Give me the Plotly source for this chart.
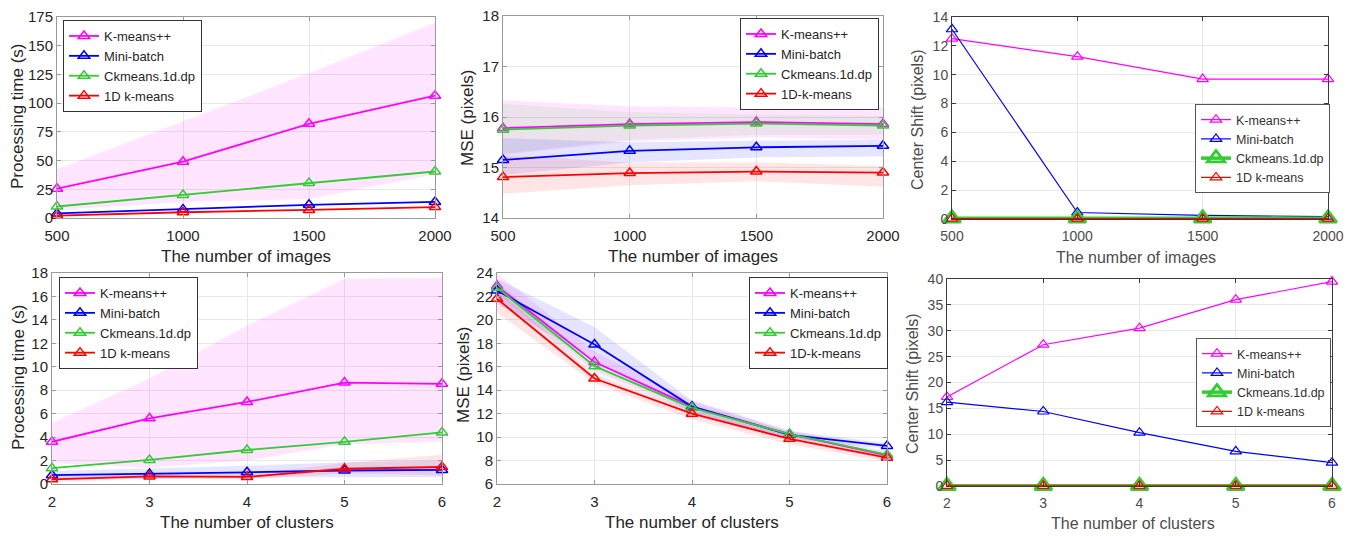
import plotly.graph_objects as go

# page body adds an 8px margin; the figure is sized so it ends at the window edge
OX, OY = 8, 8
W, H = 1357 - OX, 536 - OY

# ---------------- data ----------------
images = [500, 1000, 1500, 2000]
clusters = [2, 3, 4, 5, 6]
names_a = ["K-means++", "Mini-batch", "Ckmeans.1d.dp", "1D k-means"]
names_b = ["K-means++", "Mini-batch", "Ckmeans.1d.dp", "1D-k-means"]
img_ticks = [500, 1000, 1500, 2000]
clu_ticks = [2, 3, 4, 5, 6]

# (1) processing time vs number of images
t_img_kmpp = [25.5, 49, 82, 106.5]
t_img_kmpp_hi = [42.5, 84, 126, 170]
t_img_kmpp_lo = [7, 14, 16.5, 38]
t_img_mini = [4, 7.5, 11.5, 14]
t_img_ck = [10, 20, 30.5, 40.5]
t_img_1d = [2, 5, 7, 9.5]

# (2) MSE vs number of images
m_img_kmpp = [15.78, 15.86, 15.9, 15.86]
m_img_kmpp_hi = [16.33, 16.21, 16.19, 16.19]
m_img_kmpp_lo = [15.25, 15.52, 15.6, 15.55]
m_img_mini = [15.15, 15.33, 15.4, 15.43]
m_img_mini_hi = [15.58, 15.5, 15.53, 15.55]
m_img_mini_lo = [14.85, 15.1, 15.2, 15.22]
m_img_ck = [15.75, 15.83, 15.87, 15.83]
m_img_ck_hi = [16.26, 16.1, 16.05, 16.02]
m_img_ck_lo = [15.27, 15.55, 15.65, 15.65]
m_img_1d = [14.81, 14.89, 14.92, 14.9]
m_img_1d_hi = [15.24, 15.1, 15.1, 15.03]
m_img_1d_lo = [14.48, 14.65, 14.73, 14.62]

# (3) center shift vs number of images
c_img_kmpp = [12.5, 11.25, 9.7, 9.7]
c_img_mini = [13.15, 0.45, 0.25, 0.17]
c_img_ck = [0.05, 0.05, 0.05, 0.05]
c_img_1d = [0.03, 0.03, 0.03, 0.03]

# (4) processing time vs number of clusters
t_clu_kmpp = [3.6, 5.6, 7.0, 8.65, 8.55]
t_clu_kmpp_hi = [5.2, 9.0, 13.5, 17.5, 17.6]
t_clu_kmpp_lo = [1.8, 1.4, 2.0, 3.4, 3.6]
t_clu_mini = [0.75, 0.85, 1.0, 1.15, 1.2]
t_clu_mini_hi = [1.1, 1.3, 1.55, 1.85, 2.0]
t_clu_mini_lo = [0.45, 0.5, 0.55, 0.6, 0.6]
t_clu_ck = [1.35, 2.05, 2.9, 3.6, 4.4]
t_clu_1d = [0.4, 0.65, 0.6, 1.3, 1.45]
t_clu_1d_hi = [0.6, 0.85, 0.8, 1.8, 2.5]
t_clu_1d_lo = [0.2, 0.45, 0.4, 0.9, 0.75]

# (5) MSE vs number of clusters
m_clu_kmpp = [22.9, 16.4, 12.6, 10.25, 8.45]
m_clu_kmpp_hi = [24.0, 17.3, 13.1, 10.6, 8.8]
m_clu_kmpp_lo = [21.9, 15.6, 12.1, 9.8, 8.1]
m_clu_mini = [22.5, 17.9, 12.6, 10.2, 9.25]
m_clu_mini_hi = [23.5, 19.4, 13.1, 10.5, 9.5]
m_clu_mini_lo = [21.4, 16.5, 12.1, 9.9, 9.0]
m_clu_ck = [22.75, 16.05, 12.5, 10.25, 8.5]
m_clu_ck_hi = [23.3, 16.4, 12.8, 10.5, 8.7]
m_clu_ck_lo = [22.2, 15.7, 12.2, 10.0, 8.3]
m_clu_1d = [21.8, 15.0, 12.0, 9.85, 8.25]
m_clu_1d_hi = [22.6, 15.4, 12.3, 10.1, 8.5]
m_clu_1d_lo = [20.6, 14.6, 11.5, 9.4, 7.9]

# (6) center shift vs number of clusters
c_clu_kmpp = [17.2, 27.3, 30.5, 36.0, 39.5]
c_clu_mini = [16.2, 14.4, 10.3, 6.7, 4.5]
c_clu_ck = [0.05, 0.05, 0.05, 0.05, 0.05]
c_clu_1d = [0.03, 0.03, 0.03, 0.03, 0.03]

# ---------------- style ----------------
MAG, BLU, GRN, RED = "#ff00ff", "#0000ff", "#33cc33", "#ff0000"
FILL = {MAG: "rgba(255,0,255,0.10)", BLU: "rgba(0,0,255,0.10)",
        GRN: "rgba(0,190,0,0.08)", RED: "rgba(255,0,0,0.10)"}
FONT_L = "Liberation Sans, Arial, sans-serif"
DARK = "#262626"
GRAY = "#4d4d4d"


def PX(px):
    return (px - OX) / W


def PY(py):
    return 1 - (py - OY) / H


fig = go.Figure()


def band(x, lo, hi, color, i):
    fig.add_trace(go.Scatter(
        x=list(x) + list(x)[::-1], y=list(hi) + list(lo)[::-1],
        fill="toself", fillcolor=FILL[color], line=dict(width=0),
        mode="lines", hoverinfo="skip", showlegend=False,
        xaxis=f"x{i}", yaxis=f"y{i}"))


def line(x, y, color, name, i, width=1.8, msize=10, mlw=1.5):
    fig.add_trace(go.Scatter(
        x=x, y=y, mode="lines+markers", name=name,
        line=dict(color=color, width=width),
        marker=dict(symbol="triangle-up-open", size=msize, color=color,
                    line=dict(width=mlw, color=color)),
        xaxis=f"x{i}", yaxis=f"y{i}",
        legend="legend" if i == 1 else f"legend{i}",
        cliponaxis=False))


# panel 1
band(images, t_img_kmpp_lo, t_img_kmpp_hi, MAG, 1)
for y, c, n in zip([t_img_kmpp, t_img_mini, t_img_ck, t_img_1d],
                   [MAG, BLU, GRN, RED], names_a):
    line(images, y, c, n, 1)

# panel 2
for lo, hi, c in [(m_img_kmpp_lo, m_img_kmpp_hi, MAG), (m_img_mini_lo, m_img_mini_hi, BLU),
                  (m_img_ck_lo, m_img_ck_hi, GRN), (m_img_1d_lo, m_img_1d_hi, RED)]:
    band(images, lo, hi, c, 2)
for y, c, n in zip([m_img_kmpp, m_img_mini, m_img_ck, m_img_1d],
                   [MAG, BLU, GRN, RED], names_b):
    line(images, y, c, n, 2)

# panel 3
line(images, c_img_kmpp, MAG, names_a[0], 3, width=1.2, msize=10, mlw=1.2)
line(images, c_img_mini, BLU, names_a[1], 3, width=1.2, msize=10, mlw=1.2)
line(images, c_img_ck, GRN, names_a[2], 3, width=3.5, msize=15, mlw=2.8)
line(images, c_img_1d, RED, names_a[3], 3, width=1.2, msize=10, mlw=1.2)

# panel 4
band(clusters, t_clu_kmpp_lo, t_clu_kmpp_hi, MAG, 4)
band(clusters, t_clu_mini_lo, t_clu_mini_hi, BLU, 4)
band(clusters, t_clu_1d_lo, t_clu_1d_hi, RED, 4)
for y, c, n in zip([t_clu_kmpp, t_clu_mini, t_clu_ck, t_clu_1d],
                   [MAG, BLU, GRN, RED], names_a):
    line(clusters, y, c, n, 4)

# panel 5
for lo, hi, c in [(m_clu_kmpp_lo, m_clu_kmpp_hi, MAG), (m_clu_mini_lo, m_clu_mini_hi, BLU),
                  (m_clu_ck_lo, m_clu_ck_hi, GRN), (m_clu_1d_lo, m_clu_1d_hi, RED)]:
    band(clusters, lo, hi, c, 5)
for y, c, n in zip([m_clu_kmpp, m_clu_mini, m_clu_ck, m_clu_1d],
                   [MAG, BLU, GRN, RED], names_b):
    line(clusters, y, c, n, 5)

# panel 6
line(clusters, c_clu_kmpp, MAG, names_a[0], 6, width=1.2, msize=10, mlw=1.2)
line(clusters, c_clu_mini, BLU, names_a[1], 6, width=1.2, msize=10, mlw=1.2)
line(clusters, c_clu_ck, GRN, names_a[2], 6, width=3.5, msize=15, mlw=2.8)
line(clusters, c_clu_1d, RED, names_a[3], 6, width=1.2, msize=10, mlw=1.2)

# ---------------- layout ----------------
# plot boxes in window pixels: (left, right, top, bottom)
boxes = {
    1: (57, 435, 17, 218),
    2: (503, 883, 16, 218),
    3: (952, 1328, 17, 219),
    4: (52, 442, 273, 484),
    5: (497, 887, 273, 484),
    6: (947, 1332, 279, 486),
}
xr = {1: [500, 2000], 2: [500, 2000], 3: [500, 2000], 4: [2, 6], 5: [2, 6], 6: [2, 6]}
xt = {1: img_ticks, 2: img_ticks, 3: img_ticks, 4: clu_ticks, 5: clu_ticks, 6: clu_ticks}
yr = {1: [0, 175], 2: [14, 18], 3: [0, 14], 4: [0, 18], 5: [6, 24], 6: [0, 40]}
yd = {1: 25, 2: 1, 3: 2, 4: 2, 5: 2, 6: 5}

layout = dict(width=W, height=H, margin=dict(l=0, r=0, t=0, b=0, pad=0),
              template="none", autosize=False,
              paper_bgcolor="white", plot_bgcolor="white",
              font=dict(family=FONT_L, color=DARK))

for i, (l, r, t, b) in boxes.items():
    right = i in (3, 6)
    col = GRAY if right else DARK
    lcol = "#3a3a3a" if right else "#9a9a9a"
    fs = 14 if right else 15
    common = dict(showline=True, mirror="ticks", linecolor=lcol, linewidth=1,
                  ticks="inside", ticklen=4, tickcolor=lcol, showgrid=True,
                  gridcolor="#e8e8e8", gridwidth=1, zeroline=False, automargin=False,
                  ticklabeloverflow="allow",
                  tickfont=dict(size=fs, color=col, family=FONT_L))
    sx = "" if i == 1 else str(i)
    layout[f"xaxis{sx}"] = dict(domain=[PX(l), PX(r)], range=xr[i], tickvals=xt[i],
                                anchor=f"y{sx}", ticklabelstandoff=4, **common)
    layout[f"yaxis{sx}"] = dict(domain=[PY(b), PY(t)], range=yr[i],
                                tick0=yr[i][0], dtick=yd[i], anchor=f"x{sx}", **common)

# legends: (left, top, font size)
legpos = {1: (63, 20, 13), 2: (740, 18, 13), 3: (1195, 104, 12.5),
          4: (59, 277, 13), 5: (749, 277, 13), 6: (1196, 338, 12.5)}
for i, (lx, ty, fs) in legpos.items():
    key = "legend" if i == 1 else f"legend{i}"
    right = i in (3, 6)
    layout[key] = dict(x=PX(lx), y=PY(ty), xanchor="left", yanchor="top",
                       bgcolor="white", bordercolor="#333333" if not right else "#555555",
                       borderwidth=1, font=dict(size=fs, family=FONT_L,
                                                color=DARK if not right else "#333333"),
                       tracegroupgap=0, itemwidth=30)

fig.update_layout(**layout)

# axis titles as annotations: (text, x px, y px, angle, size, color)
titles = [
    ("The number of images", 246, 256, 0, 17, DARK),
    ("Processing time (s)", 18, 117, -90, 17, DARK),
    ("The number of images", 693, 256, 0, 17, DARK),
    ("MSE (pixels)", 467, 118, -90, 17, DARK),
    ("The number of images", 1136, 257, 0, 16, GRAY),
    ("Center Shift (pixels)", 917, 120, -90, 16, GRAY),
    ("The number of clusters", 247, 522, 0, 17, DARK),
    ("Processing time (s)", 18, 378, -90, 17, DARK),
    ("The number of clusters", 692, 522, 0, 17, DARK),
    ("MSE (pixels)", 463, 375, -90, 17, DARK),
    ("The number of clusters", 1133, 523, 0, 16, GRAY),
    ("Center Shift (pixels)", 912, 384, -90, 16, GRAY),
]
for text, px, py, ang, fs, col in titles:
    fig.add_annotation(text=text, x=PX(px), y=PY(py), xref="paper", yref="paper",
                       xanchor="center", yanchor="middle", showarrow=False,
                       textangle=ang, font=dict(size=fs, color=col, family=FONT_L))

fig.write_html("out.html")
